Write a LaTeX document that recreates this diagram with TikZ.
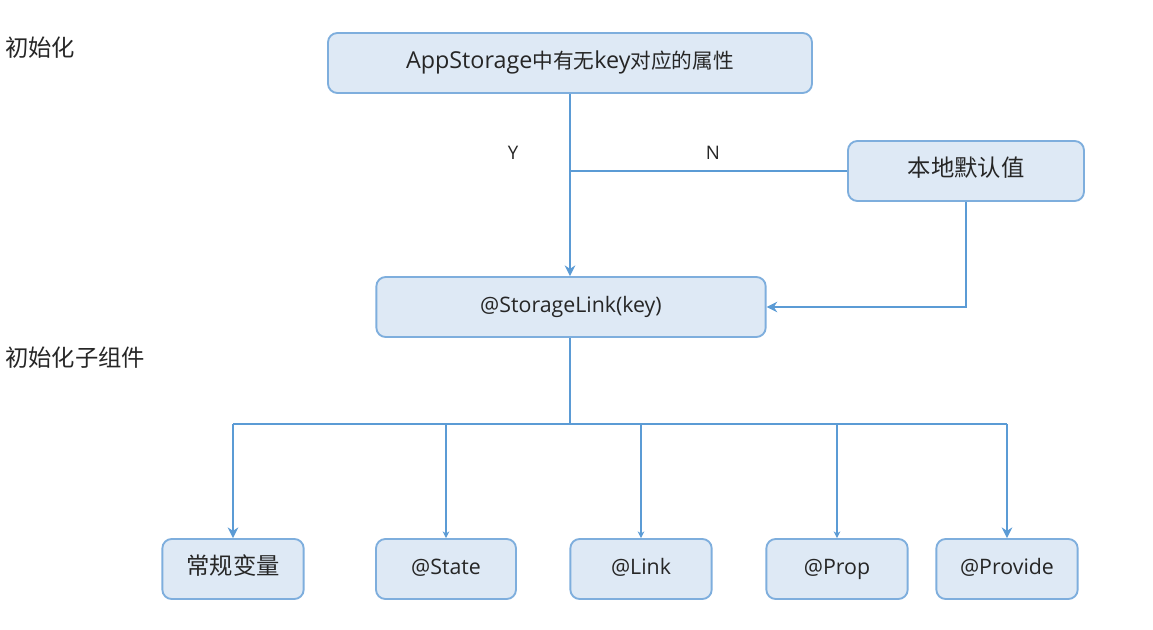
\documentclass[tikz,border=0pt]{standalone}
\usepackage{fontspec}
\setmainfont{Noto Sans CJK SC}
\newfontfamily\lat{Open Sans}
\usetikzlibrary{arrows.meta}
\definecolor{boxfill}{HTML}{DEE9F5}
\definecolor{boxline}{HTML}{7EAEDD}
\definecolor{conn}{HTML}{5B9BD5}
\definecolor{txt}{HTML}{262626}
\newcommand{\zh}[1]{{\rmfamily\fontsize{15.5}{17}\selectfont #1}}
\tikzset{
  px/.style={x=0.75pt,y=-0.75pt},
  box/.style={draw=boxline, line width=1.4pt, fill=boxfill, rounded corners=7pt,
    inner sep=0pt, text=txt, font=\lat\fontsize{16}{17}\selectfont,
    text height=12.5pt, text depth=3.5pt},
  toptxt/.style={font=\lat\fontsize{17.5}{19}\selectfont},
  bigtxt/.style={font=\fontsize{17.5}{19}\selectfont},
  line/.style={draw=conn, line width=1.1pt},
  bigarr/.style={line, -{Stealth[length=8pt,width=8pt]}},
  smallarr/.style={line, -{Stealth[length=5pt,width=5pt]}},
  lbl/.style={text=txt, font=\lat\fontsize{14}{15}\selectfont, inner sep=0pt},
  side/.style={text=txt, font=\fontsize{17.5}{19}\selectfont, inner sep=0pt, anchor=north west},
}
\begin{document}
\begin{tikzpicture}[px]
\useasboundingbox (0,0) rectangle (1153,630);
\node[box, toptxt, minimum width=363pt, minimum height=45pt] (top) at (570,63) {AppStorage\zh{中有无}key\zh{对应的属性}};
\node[box, bigtxt, minimum width=177pt, minimum height=45pt] (def) at (966,171) {本地默认值};
\node[box, minimum width=292pt, minimum height=45pt] (sl) at (571,307) {@StorageLink(key)};
\node[box, bigtxt, minimum width=106pt, minimum height=45pt] (c1) at (233,569) {常规变量};
\node[box, minimum width=105pt, minimum height=45pt] (c2) at (446,569) {@State};
\node[box, minimum width=106pt, minimum height=45pt] (c3) at (641,569) {@Link};
\node[box, minimum width=106pt, minimum height=45pt] (c4) at (837,569) {@Prop};
\node[box, minimum width=106pt, minimum height=45pt] (c5) at (1007,569) {@Provide};
\node[side] (s1) at (5,37) {初始化};
\node[side] (s2) at (5,347) {初始化子组件};
\node[lbl] (y) at (513,153) {Y};
\node[lbl] (n) at (713,153) {N};
\coordinate (j1) at (570,171);
\coordinate (j2) at (570,424);
% connectors
\draw[bigarr] (top.south -| j1) -- (sl.north -| j1);
\draw[line] (def.west) -- (j1);
\draw[bigarr] (def.south) |- (sl.east);
\draw[line] (sl.south -| j2) -- (j2);
\draw[line] (c1.north |- j2) -- (c5.north |- j2);
\draw[bigarr] (c1.north |- j2) -- (c1.north);
\draw[smallarr] (c2.north |- j2) -- (c2.north);
\draw[smallarr] (c3.north |- j2) -- (c3.north);
\draw[smallarr] (c4.north |- j2) -- (c4.north);
\draw[bigarr] (c5.north |- j2) -- (c5.north);
\end{tikzpicture}
\end{document}
